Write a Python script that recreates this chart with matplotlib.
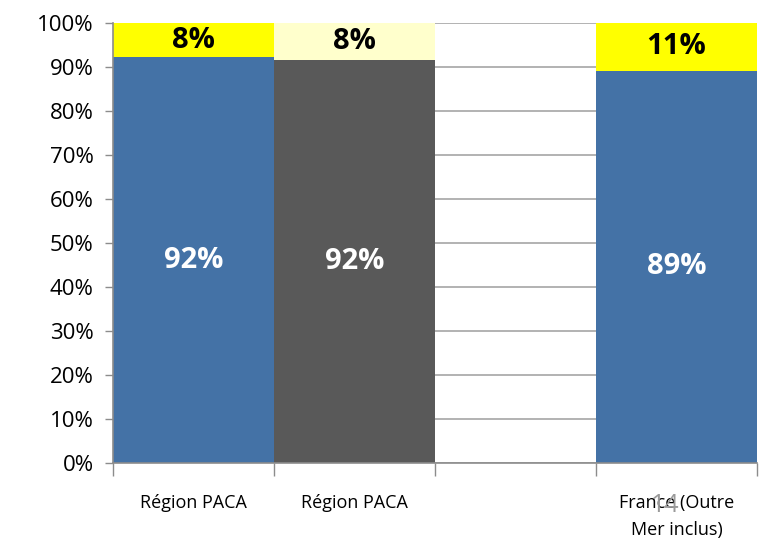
import matplotlib
matplotlib.use("Agg")
import matplotlib.pyplot as plt
import numpy as np

# data
categories = ["Région PACA", "Région PACA", "", "France (Outre\nMer inclus)"]
main_values = [92.2, 91.6, 0, 89.2]
rest_values = [7.8, 8.4, 0, 10.8]
main_labels = ["92%", "92%", "", "89%"]
rest_labels = ["8%", "8%", "", "11%"]
main_colors = ["#4472A6", "#595959", "#FFFFFF", "#4472A6"]
rest_colors = ["#FFFF00", "#FFFFCC", "#FFFFFF", "#FFFF00"]

plt.rcParams['font.family'] = ['Open Sans', 'DejaVu Sans']

fig = plt.figure(figsize=(7.7, 5.47), dpi=100)
ax = fig.add_axes([113 / 770, 1 - 463 / 547, 644 / 770, 440 / 547])

x = np.arange(len(categories))
ax.bar(x, main_values, width=1.0, color=main_colors, zorder=2)
ax.bar(x, rest_values, bottom=main_values, width=1.0, color=rest_colors, zorder=2)

for i in x:
    if main_labels[i]:
        ax.text(i, main_values[i] / 2, main_labels[i], ha='center', va='center',
                color='white', fontsize=21, fontweight='bold', zorder=3)
    if rest_labels[i]:
        ax.text(i, main_values[i] + rest_values[i] / 2, rest_labels[i], ha='center',
                va='center', color='black', fontsize=21, fontweight='bold', zorder=3)

ax.set_xlim(-0.5, len(categories) - 0.5)
ax.set_ylim(0, 100)
ax.set_yticks(np.arange(0, 101, 10))
ax.set_yticklabels([f"{v}%" for v in range(0, 101, 10)], fontsize=16)
ax.yaxis.grid(True, color='#A6A6A6', linewidth=1.2, zorder=0)
ax.set_axisbelow(True)

# category boundaries get the tick marks, labels sit in the middle
ax.set_xticks(np.arange(-0.5, len(categories), 1.0))
ax.set_xticklabels([])
ax.set_xticks(x, minor=True)
ax.set_xticklabels(categories, minor=True, fontsize=13, linespacing=1.7)
ax.tick_params(axis='x', which='major', length=9, color='#8C8C8C', width=1)
ax.tick_params(axis='x', which='minor', length=0, pad=22)
ax.tick_params(axis='y', length=6, color='#8C8C8C', width=1, pad=8)

for side in ['top', 'right']:
    ax.spines[side].set_visible(False)
for side in ['left', 'bottom']:
    ax.spines[side].set_color('#8C8C8C')
    ax.spines[side].set_linewidth(1.2)

# page number left over on the slide
fig.text(665 / 770, 1 - 505 / 547, "14", color='#9A9A9A', fontsize=18,
         ha='center', va='center')

fig.savefig("out.png", dpi=100)
